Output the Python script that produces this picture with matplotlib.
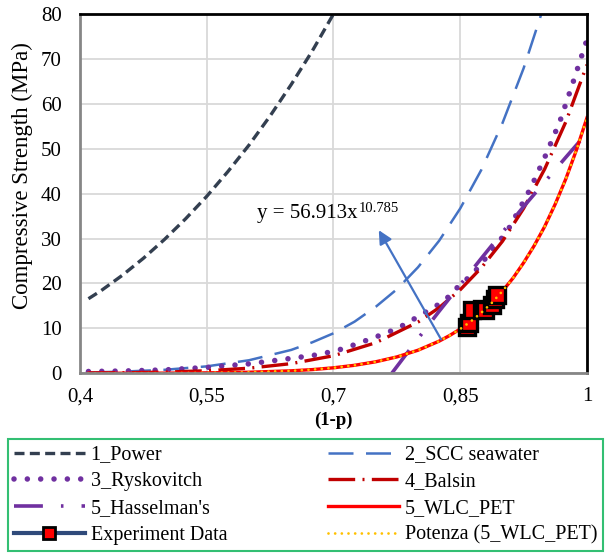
import numpy as np
import matplotlib
matplotlib.use('Agg')
import matplotlib.pyplot as plt
from matplotlib.lines import Line2D

plt.rcParams['font.family'] = ['Liberation Serif', 'DejaVu Serif']

# --- data ---
power_x = [0.41, 0.425, 0.45, 0.475, 0.50, 0.525, 0.55, 0.575, 0.60, 0.625, 0.65, 0.675, 0.70]
power_y = [16.6, 18.4, 21.8, 25.6, 29.8, 34.4, 39.4, 44.9, 50.8, 57.3, 64.3, 71.8, 80.0]

scc_x = [0.41, 0.45, 0.50, 0.55, 0.60, 0.65, 0.675, 0.70, 0.725, 0.75, 0.775, 0.80, 0.825, 0.85, 0.875, 0.90, 0.925, 0.946]
scc_y = [0.18, 0.36, 0.77, 1.54, 2.9, 5.2, 6.9, 8.9, 11.5, 14.8, 18.7, 23.6, 29.5, 36.7, 45.3, 55.7, 67.9, 80.0]

rysk_x = [0.41, 0.45, 0.50, 0.55, 0.60, 0.637, 0.665, 0.684, 0.708, 0.721, 0.749, 0.776, 0.80, 0.825,
          0.836, 0.846, 0.858, 0.867, 0.896, 0.909, 0.933, 0.951, 0.968, 0.982, 0.991, 1.0]
rysk_y = [0.4, 0.5, 0.75, 1.3, 2.1, 3.0, 3.7, 4.2, 5.3, 6.1, 8.0, 10.0, 12.6, 15.4,
          17.0, 19.0, 21.0, 22.6, 29.3, 32.7, 41.1, 48.5, 56.1, 63.9, 69.1, 74.3]

balsin_x = [0.41, 0.45, 0.50, 0.55, 0.60, 0.65, 0.70, 0.75, 0.80, 0.825, 0.85, 0.875, 0.90, 0.925, 0.95, 0.975, 1.0]
balsin_y = [0.05, 0.11, 0.26, 0.56, 1.13, 2.15, 3.9, 6.8, 11.4, 14.6, 18.6, 23.5, 29.4, 36.7, 45.5, 56.0, 68.7]

hass_x = [0.769, 0.80, 0.825, 0.85, 0.875, 0.90, 0.925, 0.95, 0.975, 1.0]
hass_y = [0.0, 7.7, 13.8, 19.7, 25.6, 31.4, 37.1, 42.6, 48.1, 53.5]

wlc_x = [0.41, 0.45, 0.50, 0.55, 0.60, 0.65, 0.675, 0.70, 0.725, 0.75, 0.775, 0.80, 0.825, 0.8375, 0.85,
         0.8625, 0.875, 0.8875, 0.90, 0.9125, 0.925, 0.9375, 0.95, 0.9625, 0.975, 0.9875, 1.0]
wlc_y = [0.004, 0.01, 0.032, 0.09, 0.23, 0.55, 0.82, 1.22, 1.78, 2.56, 3.64, 5.13, 7.15, 8.41, 9.86,
         11.55, 13.5, 15.7, 18.3, 21.2, 24.6, 28.4, 32.7, 37.7, 43.3, 49.7, 56.9]

exp_x = [0.858, 0.860, 0.864, 0.876, 0.879, 0.888, 0.891, 0.894]
exp_y = [10.2, 11.3, 14.0, 14.3, 14.0, 15.3, 16.6, 17.4]

x_ticks = [0.4, 0.55, 0.7, 0.85, 1.0]
x_ticklabels = ['0,4', '0,55', '0,7', '0,85', '1']
y_ticks = [0, 10, 20, 30, 40, 50, 60, 70, 80]

fig = plt.figure(figsize=(6.06, 5.53), dpi=100)
ax = fig.add_axes([0.132, 0.325, 0.8366, 0.6497])

l1, = ax.plot(power_x, power_y, color='#333F50', lw=2.4, ls=(0, (3, 1.6)))
l2, = ax.plot(scc_x, scc_y, color='#4472C4', lw=1.8, ls=(0, (10, 5)))
l3, = ax.plot(rysk_x, rysk_y, color='#7030A0', lw=4.0, ls=(0, (0.001, 2.4)), dash_capstyle='round')
l4, = ax.plot(balsin_x, balsin_y, color='#C00000', lw=2.4, ls=(0, (8, 2.2, 0.6, 2.2)))
l5, = ax.plot(hass_x, hass_y, color='#7030A0', lw=2.6, ls=(0, (8, 5, 0.7, 5)))
l6, = ax.plot(wlc_x, wlc_y, color='#FF0000', lw=2.4)
ax.plot(exp_x, exp_y, ls='none', marker='s', ms=11, mfc='#FF0000', mec='black', mew=2.4)
l8, = ax.plot(wlc_x, wlc_y, color='#FFC000', lw=2.0, ls=(0, (0.001, 2.4)), dash_capstyle='round')

l7 = Line2D([], [], color='#2F4A7A', lw=3, marker='s', ms=9, mfc='#FF0000', mec='black', mew=2)

ax.annotate('', xy=(0.752, 32.4), xytext=(0.829, 7.0),
            arrowprops=dict(arrowstyle='-|>', color='#4472C4', lw=1.6, mutation_scale=20))
eq = ax.text(0.6095, 34.5, 'y = 56.913x', fontsize=15, va='baseline', ha='left')
ax.annotate('10.785', xy=(1, 1), xycoords=eq, xytext=(0.5, 2), textcoords='offset points',
            fontsize=10.5, va='top', ha='left')

ax.set_xlim(0.4, 1.0)
ax.set_ylim(0, 80)
ax.set_xticks(x_ticks)
ax.set_xticklabels(x_ticklabels)
ax.set_yticks(y_ticks)
ax.tick_params(axis='both', length=0, labelsize=15)
ax.tick_params(axis='x', pad=10)
ax.tick_params(axis='y', pad=13)
ax.grid(True, color='#D9D9D9', lw=1.3)
ax.set_axisbelow(True)

for side in ['top', 'right']:
    ax.spines[side].set_color('black')
    ax.spines[side].set_linewidth(2.0)
for side in ['left', 'bottom']:
    ax.spines[side].set_color('#868686')
    ax.spines[side].set_linewidth(2.0)

ax.set_ylabel('Compressive Strength (MPa)', fontsize=16.5)
ax.yaxis.set_label_coords(-0.093, 0.55)
ax.set_xlabel('(1-p)', fontsize=13.5, fontweight='bold')
ax.xaxis.set_label_coords(0.5, -0.108)

handles = [l1, l3, l5, l7, l2, l4, l6, l8]
labels = ['1_Power', '3_Ryskovitch', "5_Hasselman's", 'Experiment Data',
          '2_SCC seawater', '4_Balsin', '5_WLC_PET', 'Potenza (5_WLC_PET)']
leg = fig.legend(handles, labels, ncol=2, loc='lower left',
                 bbox_to_anchor=(0.0132, 0.0036, 0.982, 0.2007), mode='expand',
                 borderaxespad=0, fancybox=False, edgecolor='#00B050', fontsize=14.5,
                 handlelength=3.5, handletextpad=0.3, labelspacing=0.38, borderpad=0.3)
leg.get_frame().set_linewidth(1.5)

fig.savefig('out.png', dpi=100)
